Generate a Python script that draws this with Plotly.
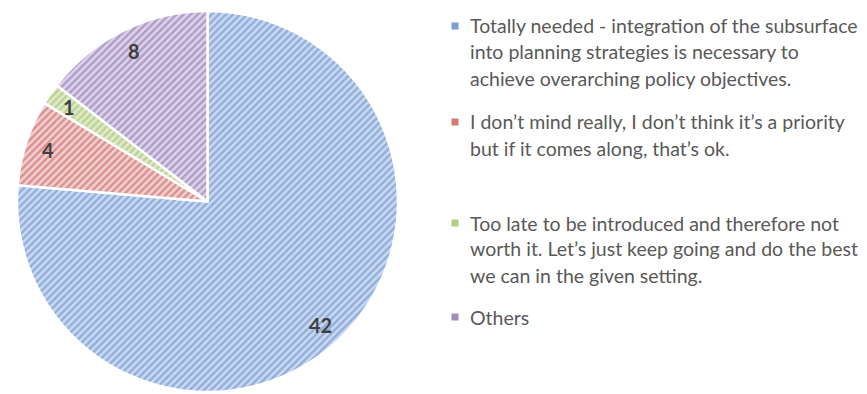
import math
import plotly.graph_objects as go

# Survey answers and counts
legend_lines = [
    ["Totally needed - integration of the subsurface",
     "into planning strategies is necessary to",
     "achieve overarching policy objectives."],
    ["I don\u2019t mind really, I don\u2019t think it\u2019s a priority",
     "but if it comes along, that\u2019s ok."],
    ["Too late to be introduced and therefore not",
     "worth it. Let\u2019s just keep going and do the best",
     "we can in the given setting."],
    ["Others"],
]
categories = [" ".join(lines) for lines in legend_lines]
counts = [42, 4, 1, 8]

# Hatch colours (stripe / background) and a solid swatch colour for the legend
stripe_colors = ["#5584CB", "#C4524F", "#9BBB59", "#8266A6"]
back_colors = ["#CCDAF0", "#F2D1D0", "#E0EBCD", "#DDD4EA"]
swatch_colors = ["#7A9CD6", "#D27C7A", "#B2CD84", "#A18DBD"]

W, H = 867, 394
pie_left, pie_width = 0, 415
pie_bottom, pie_height = 2, 381

fig = go.Figure()
fig.add_trace(go.Pie(
    labels=categories,
    values=counts,
    sort=False,
    direction="clockwise",
    rotation=0,
    textinfo="none",
    hoverinfo="label+value",
    showlegend=False,
    domain=dict(x=[pie_left / W, (pie_left + pie_width) / W],
                y=[pie_bottom / H, (pie_bottom + pie_height) / H]),
    marker=dict(
        colors=back_colors,
        line=dict(color="white", width=2.5),
        pattern=dict(shape="/", fgcolor=stripe_colors, bgcolor=back_colors,
                     size=5, solidity=0.5, fillmode="overlay"),
    ),
))

# Value labels placed along each slice's middle angle
cx = pie_left + pie_width / 2
cy_top = H - (pie_bottom + pie_height / 2)
radius = min(pie_width, pie_height) / 2
total = sum(counts)
annotations = []
running = 0
for v in counts:
    mid = (running + v / 2) / total * 2 * math.pi
    running += v
    px = cx + 0.88 * radius * math.sin(mid)
    py = cy_top - 0.88 * radius * math.cos(mid)
    annotations.append(dict(
        x=px / W, y=1 - py / H, xref="paper", yref="paper",
        text=f"<b>{v}</b>", showarrow=False,
        font=dict(family="Lato", size=20, color="#404040"),
        xanchor="center", yanchor="middle",
    ))

# Legend drawn beside the pie
item_tops = [26, 122, 223, 317]
line_step = 26
text_x = 468
swatch_x = 455
shapes = []
for lines, top, col in zip(legend_lines, item_tops, swatch_colors):
    for i, line in enumerate(lines):
        y = top + i * line_step
        annotations.append(dict(
            x=text_x / W, y=1 - y / H, xref="paper", yref="paper",
            text=line, showarrow=False, xanchor="left", yanchor="middle",
            font=dict(family="Lato", size=19.5, color="#595959"),
        ))
    shapes.append(dict(
        type="rect", xref="paper", yref="paper",
        x0=(swatch_x - 3.5) / W, x1=(swatch_x + 3.5) / W,
        y0=1 - (top + 3.5) / H, y1=1 - (top - 3.5) / H,
        fillcolor=col, line=dict(width=0),
    ))

fig.update_layout(
    width=W, height=H,
    margin=dict(l=0, r=0, t=0, b=0),
    paper_bgcolor="white",
    plot_bgcolor="white",
    annotations=annotations,
    shapes=shapes,
)

fig.write_html("out.html")
